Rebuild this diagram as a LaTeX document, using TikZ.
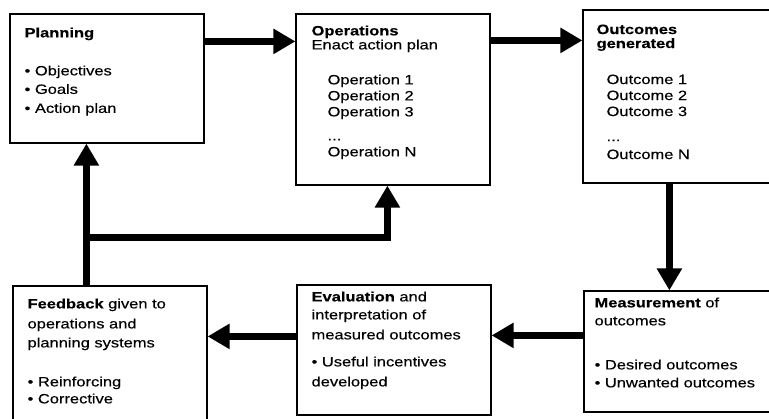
\documentclass[tikz,border=0pt]{standalone}
\usepackage{fontspec}
\setmainfont{Liberation Sans}[FakeStretch=1.22,FakeBold=0.3]
\usetikzlibrary{arrows.meta}
\tikzstyle{blk}=[shape=rectangle,
                 draw=black,
                 line width=1.2pt,
                 inner sep=0pt]
\tikzstyle{txt}=[anchor=north west,
                 inner sep=0pt,
                 align=left,
                 font=\fontsize{13.5}{16}\selectfont]
\tikzstyle{flow}=[line width=7pt,
                  -{Triangle[length=22pt,width=24pt]}]

\begin{document}
\begin{tikzpicture}[x=1pt,y=-1pt]
\useasboundingbox (0,0) rectangle (769,418);
\clip (0,0) rectangle (769,418);

% boxes
\node[blk,minimum width=194pt,minimum height=129pt] (plan) at (107,78.5) {};
\node[blk,minimum width=194pt,minimum height=171pt] (oper) at (393,99.5) {};
\node[blk,minimum width=197pt,minimum height=173pt] (outc) at (681.5,96.5) {};
\node[blk,minimum width=194pt,minimum height=144pt] (feed) at (110,358) {};
\node[blk,minimum width=194pt,minimum height=130pt] (eval) at (394,350) {};
\node[blk,minimum width=196pt,minimum height=121pt] (meas) at (682,351.5) {};

% texts
\node[txt] (tplan) at ([xshift=15pt,yshift=-14pt]plan.north west)
  {\textbf{Planning}\\[22pt]• Objectives\\[2.5pt]• Goals\\[3pt]• Action plan};
\node[txt] (toper) at ([xshift=16pt,yshift=-12pt]oper.north west)
  {\textbf{Operations}\\[-2pt]Enact action plan\\[19pt]
   \hspace*{16pt}Operation 1\\ \hspace*{16pt}Operation 2\\ \hspace*{16pt}Operation 3\\[8pt]
   \hspace*{16pt}...\\ \hspace*{16pt}Operation N};
\node[txt] (toutc) at ([xshift=14pt,yshift=-15pt]outc.north west)
  {\textbf{Outcomes}\\[-2pt]\textbf{generated}\\[20pt]
   \hspace*{10pt}Outcome 1\\ \hspace*{10pt}Outcome 2\\ \hspace*{10pt}Outcome 3\\[9pt]
   \hspace*{10pt}...\\[2pt] \hspace*{10pt}Outcome N};
\node[txt] (tfeed) at ([xshift=15pt,yshift=-13pt]feed.north west)
  {\textbf{Feedback} given to\\[4pt]operations and\\[3pt]planning systems\\[23pt]
   • Reinforcing\\[1pt]• Corrective};
\node[txt] (teval) at ([xshift=15pt,yshift=-7pt]eval.north west)
  {\textbf{Evaluation} and\\[2pt]interpretation of\\[4pt]measured outcomes\\[11pt]
   • Useful incentives\\[4pt]developed};
\node[txt] (tmeas) at ([xshift=11pt,yshift=-7pt]meas.north west)
  {\textbf{Measurement} of\\[2pt]outcomes\\[28pt]• Desired outcomes\\[2pt]• Unwanted outcomes};

% arrows along the loop
\draw[flow] ([yshift=-28pt]plan.north east) -- ([yshift=-28pt]plan.north east -| oper.west);
\draw[flow] ([yshift=-27pt]oper.north east) -- ([yshift=-27pt]oper.north east -| outc.west);
\draw[flow] ([xshift=87pt]outc.south west) -- ([xshift=87pt]outc.south west |- meas.north);
\draw[flow] ([yshift=-45pt]meas.north west) -- ([yshift=-45pt]meas.north west -| eval.east);
\draw[flow] ([yshift=-52pt]eval.north west) -- ([yshift=-52pt]eval.north west -| feed.east);

% feedback back to planning and operations
\draw[flow] ([xshift=74pt]feed.north west) -- ([xshift=74pt]feed.north west |- plan.south);
\coordinate (fork) at ([xshift=74pt,yshift=48pt]feed.north west);
\draw[flow] (fork) -| ([xshift=92pt]oper.south west);

\end{tikzpicture}
\end{document}
